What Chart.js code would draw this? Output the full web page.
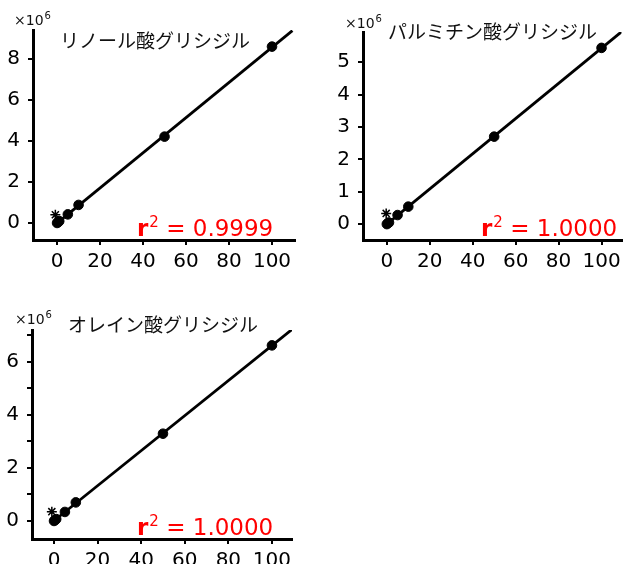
<!DOCTYPE html>
<html>
<head>
<meta charset="utf-8">
<script src="https://cdn.jsdelivr.net/npm/chart.js@4/dist/chart.umd.min.js"></script>
<style>
  html, body { margin: 0; padding: 0; background: #fff; }
  #wrap { position: relative; width: 628px; height: 564px; overflow: hidden; }
  canvas { position: absolute; }
</style>
</head>
<body>
<div id="wrap">
  <canvas id="c1" width="314" height="280" style="left:0;top:0"></canvas>
  <canvas id="c2" width="314" height="280" style="left:314px;top:0"></canvas>
  <canvas id="c3" width="314" height="280" style="left:0;top:290px"></canvas>
</div>
<script>
// Calibration standards: concentration vs. peak area (×10^6)
const concentration = [0, 0.5, 1, 5, 10, 50, 100];
const linoleicArea  = [0.00, 0.04, 0.09, 0.42, 0.88, 4.21, 8.60];
const palmiticArea  = [0.00, 0.03, 0.05, 0.28, 0.54, 2.70, 5.44];
const oleicArea     = [0.00, 0.03, 0.07, 0.34, 0.70, 3.29, 6.62];

// asterisk markers near the origin
const linoleicStar = [{ x: -0.8, y: 0.40 }];
const palmiticStar = [{ x: -0.3, y: 0.33 }];
const oleicStar    = [{ x: -1.0, y: 0.35 }];

const names = ['リノール酸グリシジル', 'パルミチン酸グリシジル', 'オレイン酸グリシジル'];
const r2Values = ['0.9999', '1.0000', '1.0000'];

const xTicks = [0, 20, 40, 60, 80, 100];
const linoleicYTicks = [0, 1, 2, 3, 4, 5, 6, 7, 8, 9];
const linoleicYLabels = [0, 2, 4, 6, 8];
const palmiticYTicks = [0, 0.5, 1, 1.5, 2, 2.5, 3, 3.5, 4, 4.5, 5, 5.5];
const palmiticYLabels = [0, 1, 2, 3, 4, 5];
const oleicYTicks = [0, 1, 2, 3, 4, 5, 6, 7];
const oleicYLabels = [0, 2, 4, 6];

// extent of the drawn regression line along x
const fitRange = [0, 109.5];

function leastSquares(xs, ys) {
  const n = xs.length;
  const mx = xs.reduce((a, b) => a + b, 0) / n;
  const my = ys.reduce((a, b) => a + b, 0) / n;
  let sxy = 0, sxx = 0;
  for (let i = 0; i < n; i++) { sxy += (xs[i] - mx) * (ys[i] - my); sxx += (xs[i] - mx) ** 2; }
  const slope = sxy / sxx;
  return { slope, intercept: my - slope * mx };
}

const annotate = {
  id: 'annotate',
  afterDraw(chart, args, opts) {
    const ctx = chart.ctx;
    ctx.save();
    ctx.fillStyle = '#111';
    // panel name
    ctx.font = '19px "Noto Sans CJK JP"';
    ctx.textBaseline = 'middle';
    ctx.textAlign = 'left';
    ctx.fillText(opts.title, opts.titleX, opts.titleY);
    // ×10^6 multiplier
    ctx.textBaseline = 'alphabetic';
    ctx.font = '14px "DejaVu Sans"';
    ctx.fillText('×10', opts.expX, opts.expY);
    const w = ctx.measureText('×10').width;
    ctx.font = '10px "DejaVu Sans"';
    ctx.fillText('6', opts.expX + w + 1, opts.expY - 6);
    // r^2 label
    ctx.fillStyle = '#ff0000';
    let x = opts.r2X;
    ctx.font = 'bold 23px "DejaVu Sans"';
    ctx.fillText('r', x, opts.r2Y);
    x += ctx.measureText('r').width + 1;
    ctx.font = '15px "DejaVu Sans"';
    ctx.fillText('2', x, opts.r2Y - 9);
    x += ctx.measureText('2').width;
    ctx.font = '23px "DejaVu Sans"';
    ctx.fillText(' = ' + opts.r2, x, opts.r2Y);
    ctx.restore();
  }
};

function fixBox(size, horizontal) {
  return (axis) => {
    if (horizontal) axis.height = size; else axis.width = size;
    axis.paddingLeft = axis.paddingRight = axis.paddingTop = axis.paddingBottom = 0;
  };
}

function makePanel(id, ys, star, yTicks, yLabels, box, ann) {
  const fit = leastSquares(concentration, ys);
  const points = concentration.map((c, i) => ({ x: c, y: ys[i] }));
  const line = fitRange.map(x => ({ x, y: fit.intercept + fit.slope * x }));
  return new Chart(document.getElementById(id), {
    type: 'scatter',
    data: {
      datasets: [
        { data: line, showLine: true, borderColor: '#000', borderWidth: 2.8, pointRadius: 0, order: 3 },
        { data: points, backgroundColor: '#000', borderColor: '#000', pointRadius: 4.8, order: 2 },
        { data: star, pointStyle: 'star', pointRadius: 5, borderColor: '#000', borderWidth: 1.5, order: 1 }
      ]
    },
    options: {
      responsive: false,
      animation: false,
      events: [],
      layout: { padding: { left: box.padLeft, top: box.top, right: box.padRight, bottom: 0 } },
      plugins: { legend: { display: false }, tooltip: { enabled: false }, annotate: ann },
      scales: {
        x: {
          type: 'linear', min: box.xMin, max: box.xMax,
          afterBuildTicks: (s) => { s.ticks = xTicks.map(v => ({ value: v })); },
          afterFit: fixBox(box.xHeight, true),
          ticks: { font: { family: 'DejaVu Sans', size: 20 }, color: '#000', padding: 5, maxRotation: 0 },
          grid: { drawOnChartArea: false, tickLength: 5, color: '#000', lineWidth: 2 },
          border: { color: '#000', width: 3 }
        },
        y: {
          type: 'linear', min: box.yMin, max: box.yMax,
          afterBuildTicks: (s) => { s.ticks = yTicks.map(v => ({ value: v })); },
          afterFit: fixBox(box.yWidth, false),
          ticks: {
            font: { family: 'DejaVu Sans', size: 20 }, color: '#000', padding: 8,
            callback: (v) => yLabels.includes(v) ? String(v) : ''
          },
          grid: { drawOnChartArea: false, tickLength: 5, color: '#000', lineWidth: 2 },
          border: { color: '#000', width: 3 }
        }
      }
    },
    plugins: [annotate]
  });
}

makePanel('c1', linoleicArea, linoleicStar, linoleicYTicks, linoleicYLabels,
  { padLeft: 0, yWidth: 33, top: 30, padRight: 19, xHeight: 40, xMin: -11.2, xMax: 110.7, yMin: -0.83, yMax: 9.41 },
  { title: names[0], titleX: 60, titleY: 41, expX: 14, expY: 25, r2: r2Values[0], r2X: 137, r2Y: 236 });

makePanel('c2', palmiticArea, palmiticStar, palmiticYTicks, palmiticYLabels,
  { padLeft: 0, yWidth: 49, top: 32, padRight: 5, xHeight: 40, xMin: -11.1, xMax: 109.3, yMin: -0.49, yMax: 5.93 },
  { title: names[1], titleX: 74, titleY: 32, expX: 31, expY: 28, r2: r2Values[1], r2X: 167, r2Y: 236 });

makePanel('c3', oleicArea, oleicStar, oleicYTicks, oleicYLabels,
  { padLeft: 0, yWidth: 32, top: 40, padRight: 22, xHeight: 31, xMin: -10.1, xMax: 109.2, yMin: -0.68, yMax: 7.2 },
  { title: names[2], titleX: 68, titleY: 35, expX: 15, expY: 34, r2: r2Values[2], r2X: 137, r2Y: 245 });
</script>
</body>
</html>
